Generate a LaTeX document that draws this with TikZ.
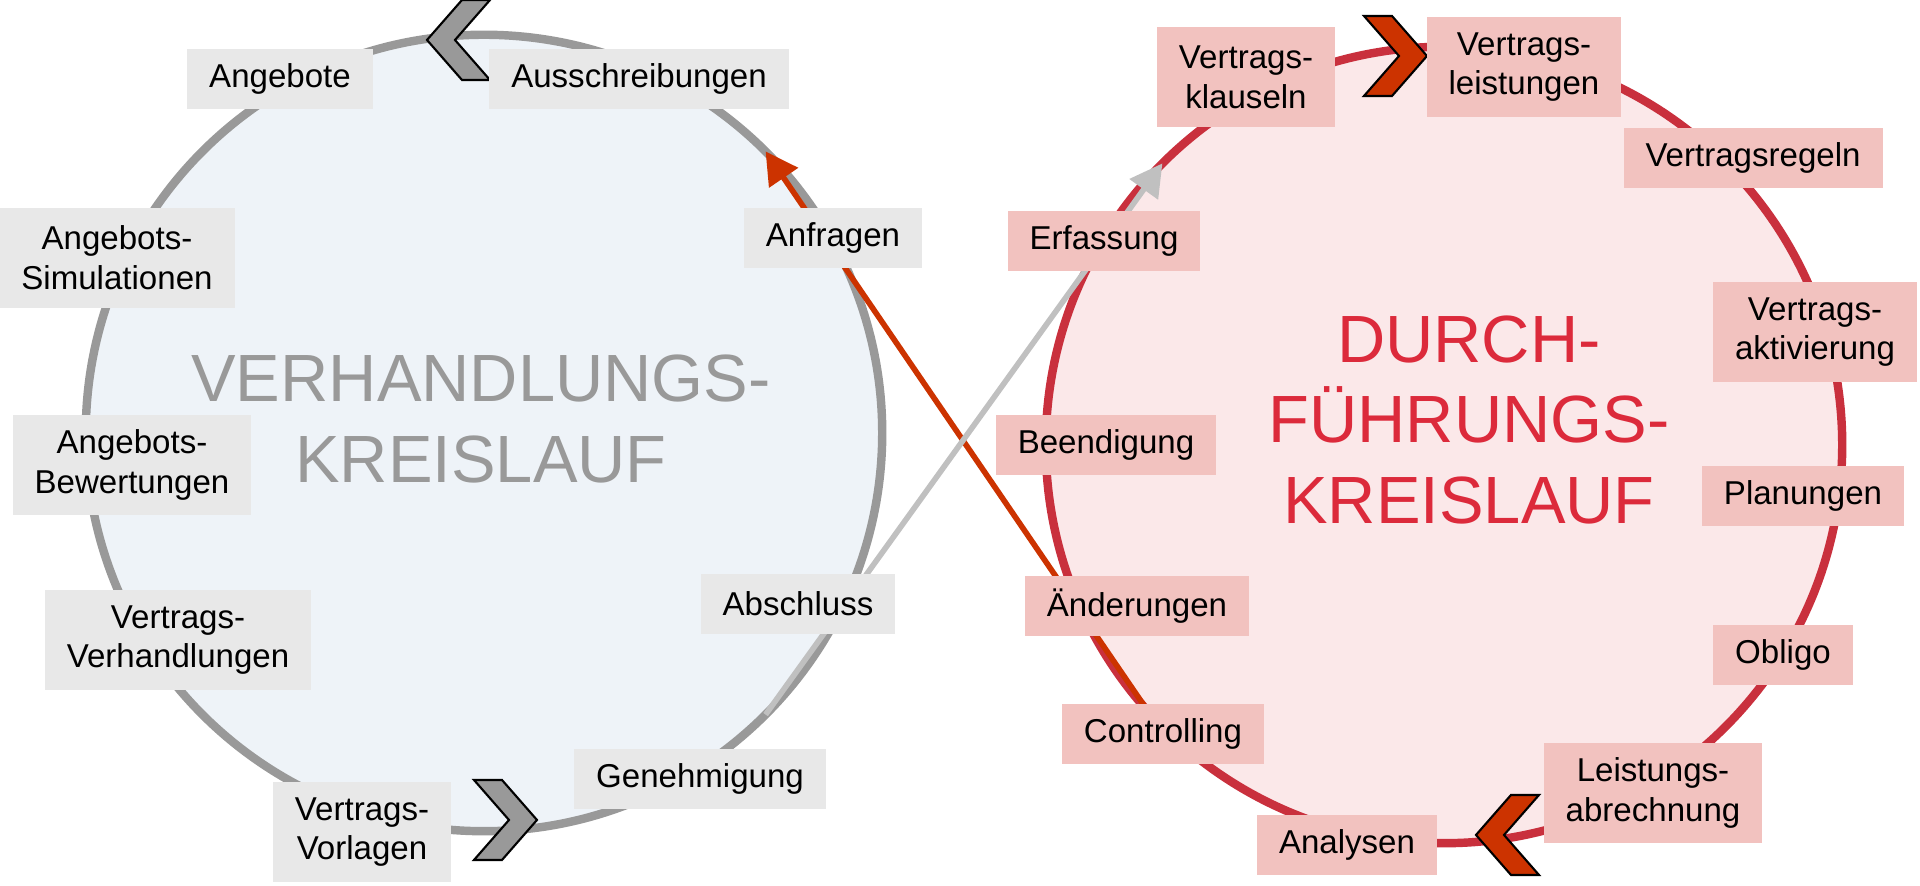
\documentclass[tikz,border=0pt]{standalone}
\usepackage{fontspec}
\setmainfont{Liberation Sans}
\usepackage{tikz}
\usetikzlibrary{positioning,arrows.meta,shapes}

\definecolor{verhfill}{HTML}{EEF3F8}
\definecolor{verhline}{HTML}{999999}
\definecolor{verhbox}{HTML}{E8E8E8}
\definecolor{durchfill}{HTML}{FBE8E9}
\definecolor{durchline}{HTML}{C9303D}
\definecolor{durchbox}{HTML}{F2C2BF}
\definecolor{durchtext}{HTML}{DC2A3B}
\definecolor{arrowred}{HTML}{CC3300}
\definecolor{arrowgray}{HTML}{C0C0C0}

\begin{document}
\begin{tikzpicture}[x=0.01cm, y=0.01cm,
        CycleStyle/.style = { circle, line width = 2.4pt,
          minimum size = 7.96cm, inner sep = 0pt, outer sep = 0pt },
        LabelStyle/.style = { rectangle, align = center,
          inner xsep = 0.22cm, inner ysep = 0.1cm, minimum height = 0.6cm,
          font = \fontsize{9.4}{11.3}\selectfont },
        GrayLabel/.style = { LabelStyle, fill = verhbox },
        RedLabel/.style = { LabelStyle, fill = durchbox },
        TwoLines/.style = { minimum height = 1cm },
        TitleStyle/.style = { align = center,
          font = \fontsize{19}{22.8}\selectfont },
        ArrowStyle/.style = { line width = 1.6pt,
          -{Triangle[length = 0.32cm, width = 0.34cm]} },
        pics/chev/.style = { code = {
          \filldraw[fill = #1, draw = black, line width = 0.6pt]
            (-32,40) -- (-4,40) -- (31,0) -- (-4,-40) -- (-32,-40) -- (3,0) -- cycle;
        } }
      ]
      \useasboundingbox (0,0) rectangle (1920,886);

      % the two cycles
      \node[CycleStyle, draw = verhline, fill = verhfill] (verh) at (484,453) {};
      \node[CycleStyle, draw = durchline, fill = durchfill] (durch) at (1444,441) {};

      % crossing arrows
      \draw[ArrowStyle, arrowred] (durch.222) -- (verh.45);
      \draw[ArrowStyle, arrowgray] (verh.-45) -- (durch.135);

      % chevrons
      \pic[xscale = -1] at (458,846) {chev = verhline};
      \pic at (506,66) {chev = verhline};
      \pic at (1396,830) {chev = arrowred};
      \pic[xscale = -1] at (1507,51) {chev = arrowred};

      % Verhandlungskreislauf
      \node[GrayLabel] (angebote) at (280,807) {Angebote};
      \node[GrayLabel] (ausschr) at (639,807) {Ausschreibungen};
      \node[GrayLabel] (anfragen) at (833,648) {Anfragen};
      \node[GrayLabel, TwoLines] (simul) at (117,628) {Angebots-\\Simulationen};
      \node[GrayLabel, TwoLines] (bewert) at (132,421) {Angebots-\\Bewertungen};
      \node[GrayLabel, TwoLines] (verhandl) at (178,246) {Vertrags-\\Verhandlungen};
      \node[GrayLabel] (abschluss) at (798,282) {Abschluss};
      \node[GrayLabel] (genehm) at (700,107) {Genehmigung};
      \node[GrayLabel, TwoLines] (vorlagen) at (362,54) {Vertrags-\\Vorlagen};

      % Durchfuehrungskreislauf
      \node[RedLabel, TwoLines] (klauseln) at (1246,809) {Vertrags-\\klauseln};
      \node[RedLabel, TwoLines] (leistungen) at (1524,819) {Vertrags-\\leistungen};
      \node[RedLabel] (regeln) at (1753,728) {Vertragsregeln};
      \node[RedLabel] (erfassung) at (1104,645) {Erfassung};
      \node[RedLabel, TwoLines] (aktiv) at (1815,554) {Vertrags-\\aktivierung};
      \node[RedLabel] (beendigung) at (1106,441) {Beendigung};
      \node[RedLabel] (planungen) at (1803,390) {Planungen};
      \node[RedLabel] (aenderungen) at (1137,280) {Änderungen};
      \node[RedLabel] (obligo) at (1783,231) {Obligo};
      \node[RedLabel] (controlling) at (1163,152) {Controlling};
      \node[RedLabel, TwoLines] (abrechnung) at (1653,93) {Leistungs-\\abrechnung};
      \node[RedLabel] (analysen) at (1347,41) {Analysen};

      % titles
      \node[TitleStyle, text = verhline] (verhtitle) at (481,467) {VERHANDLUNGS-\\KREISLAUF};
      \node[TitleStyle, text = durchtext] (durchtitle) at (1469,466) {DURCH-\\FÜHRUNGS-\\KREISLAUF};
    \end{tikzpicture}
\end{document}
